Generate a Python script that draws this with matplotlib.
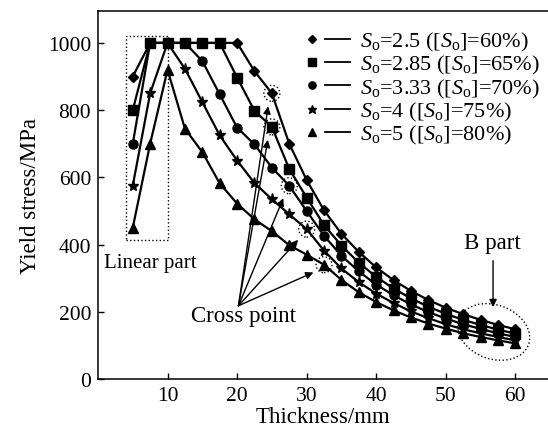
import matplotlib.pyplot as plt
from matplotlib.lines import Line2D
from matplotlib.legend_handler import HandlerTuple
from matplotlib.patches import Ellipse, Rectangle
from matplotlib.transforms import ScaledTranslation

plt.rcParams['font.family'] = ['Liberation Serif', 'DejaVu Serif']
plt.rcParams['mathtext.fontset'] = 'custom'
plt.rcParams['mathtext.rm'] = 'Liberation Serif'
plt.rcParams['mathtext.it'] = 'Liberation Serif:italic'
plt.rcParams['font.size'] = 15

# values (thickness in mm, yield stress in MPa)
thickness = [5, 7.5, 10, 12.5, 15, 17.5, 20, 22.5, 25, 27.5, 30, 32.5,
             35, 37.5, 40, 42.5, 45, 47.5, 50, 52.5, 55, 57.5, 60]
stress_s25 = [900, 1000, 1000, 1000, 1000, 1000, 1000, 916, 850, 700, 592, 502,
              432, 378, 332, 294, 262, 235, 212, 193, 176, 161, 148]
stress_s285 = [800, 1000, 1000, 1000, 1000, 1000, 897, 798, 750, 625, 540, 458,
               397, 346, 304, 269, 240, 215, 194, 176, 161, 147, 135]
stress_s333 = [700, 1000, 1000, 1000, 946, 847, 748, 698, 629, 575, 500, 426,
               367, 320, 281, 249, 222, 199, 180, 163, 149, 136, 125]
stress_s4 = [575, 850, 1000, 923, 824, 725, 650, 583, 535, 490, 446, 382,
             329, 288, 254, 226, 201, 181, 163, 148, 136, 125, 115]
stress_s5 = [450, 700, 920, 745, 675, 582, 522, 475, 440, 398, 370, 340,
             295, 258, 229, 204, 183, 165, 150, 136, 125, 115, 106]

series = [stress_s25, stress_s285, stress_s333, stress_s4, stress_s5]
labels = [r'$S_\mathrm{o}$=2.5 ([$S_\mathrm{o}$]=60%)',
          r'$S_\mathrm{o}$=2.85 ([$S_\mathrm{o}$]=65%)',
          r'$S_\mathrm{o}$=3.33 ([$S_\mathrm{o}$]=70%)',
          r'$S_\mathrm{o}$=4 ([$S_\mathrm{o}$]=75%)',
          r'$S_\mathrm{o}$=5 ([$S_\mathrm{o}$]=80%)']
markers = ['D', 's', 'o', '*', '^']
msizes = [5, 6.5, 6.5, 8, 6.5]
# index of the cross point on each curve
cross_idx = [8, 8, 9, 10, 11]

fig = plt.figure(figsize=(5.48, 4.39), dpi=100)
ax = fig.add_axes([0.1788, 0.1344, 0.8212, 0.8383])

handles = []
for ys, m, ms in zip(series, markers, msizes):
    ax.plot(thickness, ys, color='black', lw=1.6, marker=m, ms=ms)
    h_mark = Line2D([], [], color='black', marker=m, ms=ms * 0.8, ls='none')
    h_line = Line2D([], [], color='black', lw=1.3)
    handles.append((h_mark, h_line))

ax.legend(handles, labels, handler_map={tuple: HandlerTuple(ndivide=None, pad=0)},
          loc='upper left', bbox_to_anchor=(0.447, 0.948), frameon=False,
          handlelength=2.3, handletextpad=0.42, labelspacing=0.01,
          borderpad=0, borderaxespad=0, fontsize=16)

ax.set_xlim(0, 64.7)
ax.set_ylim(0, 1095)
ax.set_xticks([10, 20, 30, 40, 50, 60])
ax.set_yticks([0, 200, 400, 600, 800, 1000])
ax.tick_params(direction='in', length=4.5, width=1, labelsize=15.5, pad=5)
ax.spines['right'].set_visible(False)
for s in ['left', 'bottom', 'top']:
    ax.spines[s].set_linewidth(1.1)
ax.set_xlabel('Thickness/mm', fontsize=16.5, labelpad=1)
ax.set_ylabel('Yield stress/MPa', fontsize=16.5, labelpad=5)

# linear part box
ax.add_patch(Rectangle((4, 415), 6.1, 605, fill=False, ls=':', lw=1, color='black'))
ax.text(7.5, 348, 'Linear part', ha='center', va='center', fontsize=15)

# cross points: dotted circles and arrows
arrow = dict(arrowstyle='-|>', color='black', lw=1, mutation_scale=11,
             shrinkA=0, shrinkB=6.5)
for ys, i in zip(series, cross_idx):
    cx, cy = thickness[i], ys[i]
    tr = fig.dpi_scale_trans + ScaledTranslation(cx, cy, ax.transData)
    ax.add_patch(Ellipse((0, 0), 0.16, 0.16, transform=tr, fill=False,
                         ls=':', lw=1, color='black'))
    ax.annotate('', xy=(cx - 0.35, cy - 12), xytext=(20.2, 218), arrowprops=arrow)
ax.text(20.85, 188, 'Cross point', ha='center', va='center', fontsize=16.5)

# B part
tr = fig.dpi_scale_trans + ScaledTranslation(56.9, 140, ax.transData)
ax.add_patch(Ellipse((0, 0), 0.74, 0.54, angle=-20, transform=tr, fill=False,
                     ls=':', lw=1, color='black'))
ax.text(56.7, 407, 'B part', ha='center', va='center', fontsize=16.5)
ax.annotate('', xy=(56.8, 214), xytext=(56.8, 352),
            arrowprops=dict(arrowstyle='-|>', color='black', lw=1,
                            mutation_scale=11, shrinkA=0, shrinkB=0))

plt.savefig('out.png', dpi=100)
